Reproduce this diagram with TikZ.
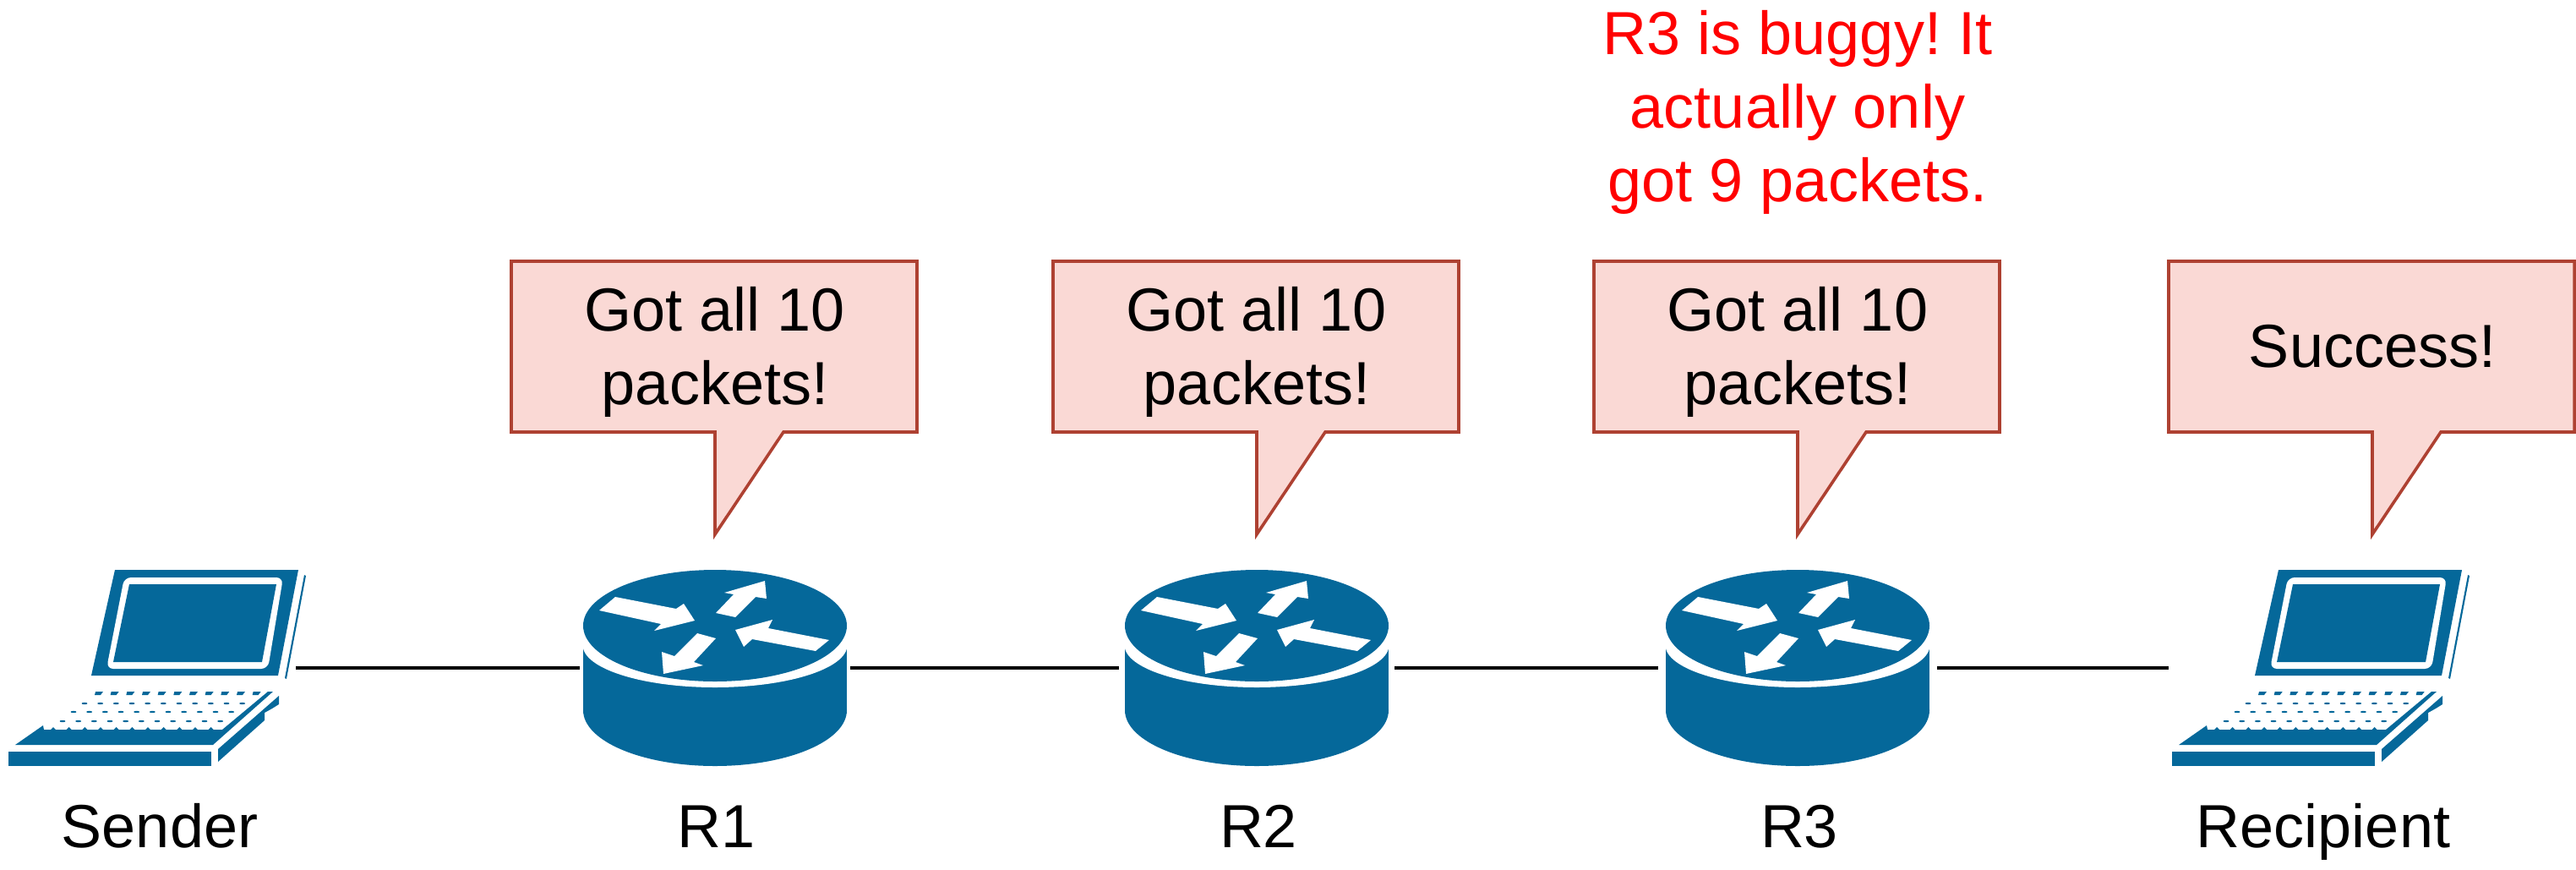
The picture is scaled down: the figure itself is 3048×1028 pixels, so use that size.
\documentclass[tikz,border=0pt]{standalone}
\usepackage{fontspec}
\setmainfont[PunctuationSpace=0]{Liberation Sans}

\definecolor{ciscoblue}{HTML}{05689A}
\definecolor{bubblefill}{HTML}{FAD9D5}
\definecolor{bubbleline}{HTML}{AE4132}

\begin{document}
\begin{tikzpicture}[x=0.25pt, y=-0.25pt,
  every node/.style = {inner sep=0pt, outer sep=0pt, align=flush center,
    font=\fontsize{18}{21.75}\selectfont},
  devicebox/.style = {minimum width=80pt, minimum height=60pt},
  link/.style = {line width=1pt},
  bubbletext/.style = {text width=110pt},
  devicelabel/.style = {anchor=base},
  pics/speechbubble/.style = {code={
    \draw[fill=bubblefill, draw=bubbleline, line width=0.9pt]
      (-241,-219) -- (239,-219) -- (239,-17) -- (81,-17) -- (0,104)
      -- (0,-17) -- (-241,-17) -- cycle;
  }},
  pics/routericon/.style = {code={
    \fill[ciscoblue] (-156,-27) rectangle (156,50);
    \fill[ciscoblue] (0,50) ellipse[x radius=156, y radius=66];
    \fill[white] (0,-27) ellipse[x radius=156.5, y radius=50];
    \fill[ciscoblue] (0,-50) ellipse[x radius=156, y radius=66];
    \fill[white] (-137,-68) -- (-118,-84) -- (-46,-70) -- (-37,-76) -- (-24,-56)
      -- (-72,-44) -- (-64,-52) -- cycle;
    \fill[white] (1,-65) -- (22,-87) -- (11,-89) -- (59,-103) -- (61,-82)
      -- (48,-84) -- (24,-60) -- cycle;
    \fill[white] (135,-33) -- (119,-20) -- (44,-34) -- (34,-25) -- (24,-45)
      -- (68,-57) -- (63,-47) -- cycle;
    \fill[white] (1,-35) -- (-25,-7) -- (-14,-3) -- (-61,7) -- (-63,-19)
      -- (-48,-14) -- (-21,-41) -- cycle;
  }},
  pics/laptopicon/.style = {code={
    \fill[ciscoblue] (-44,-116) -- (173,-116) -- (149,9) -- (-72,9) -- cycle;
    \fill[white, rounded corners=2pt] (-33,-107) -- (155,-107) -- (137,1) -- (-54,1) -- cycle;
    \fill[ciscoblue] (-27,-99) -- (147,-99) -- (130,-7) -- (-46,-7) -- cycle;
    \fill[ciscoblue] (180,-110) -- (182,-109) -- (159,13) -- (157,12) -- cycle;
    \fill[ciscoblue] (-162,91) -- (72,91) -- (143,28) -- (137,28) -- (83,73) -- (-128,73) -- (-129,68) -- cycle;
    \foreach \x in {0,...,10} {
      \fill[ciscoblue] (-67+56/3*\x,28) -- ++(9,0) -- ++(-3,4) -- ++(-7,0) -- cycle;
      \fill[ciscoblue] (-80+56/3*\x,42) ellipse[x radius=3.5, y radius=1.2];
      \fill[ciscoblue] (-93+56/3*\x,52) ellipse[x radius=3.5, y radius=1.2];
      \fill[ciscoblue] (-106+56/3*\x,63) ellipse[x radius=3.5, y radius=1.2];
      \fill[ciscoblue] (-117+56/3*\x,70) -- ++(4,4) -- ++(-8,0) -- cycle;
    }
    \fill[ciscoblue] (-170,99) rectangle (70,116);
    \fill[ciscoblue] (78,96) -- (150,33) -- (150,43) -- (142,48) -- (133,53) -- (133,62) -- (78,111) -- cycle;
  }}
]

  % devices
  \node (sender) [devicebox, minimum width=85pt] at (180,790) {};
  \node (r1) [devicebox] at (846,790) {};
  \node (r2) [devicebox, minimum width=81.5pt] at (1487,790) {};
  \node (r3) [devicebox, minimum width=82.5pt] at (2127,790) {};
  \node (recipient) [devicebox, minimum width=87pt] at (2740,790) {};

  \pic at (sender) {laptopicon};
  \pic at (r1) {routericon};
  \pic at (r2) {routericon};
  \pic at (r3) {routericon};
  \pic at (recipient) {laptopicon};

  \draw[link] (sender) -- (r1);
  \draw[link] (r1) -- (r2);
  \draw[link] (r2) -- (r3);
  \draw[link] (r3) -- (recipient);

  % labels
  \node (lsender) [devicelabel] at (189,1002) {Sender};
  \node (lr1) [devicelabel] at (848,1002) {R1};
  \node (lr2) [devicelabel] at (1489,1002) {R2};
  \node (lr3) [devicelabel] at (2129,1002) {R3};
  \node (lrecipient) [devicelabel] at (2749,1002) {Recipient};

  % speech bubbles
  \pic at (846,528) {speechbubble};
  \pic at (1487,528) {speechbubble};
  \pic at (2127,528) {speechbubble};
  \pic at (2807,528) {speechbubble};
  \node (msgr1) [bubbletext] at (846,416) {Got all 10\\packets!};
  \node (msgr2) [bubbletext] at (1487,416) {Got all 10\\packets!};
  \node (msgr3) [bubbletext] at (2127,416) {Got all 10\\packets!};
  \node (msgrecipient) [bubbletext] at (2807,410) {Success!};

  \node (bugnote) [red, text width=130pt] at (2127,133) {R3 is buggy! It\\actually only\\got 9 packets.};

  \useasboundingbox (0,0) rectangle (3048,1028);
\end{tikzpicture}
\end{document}
